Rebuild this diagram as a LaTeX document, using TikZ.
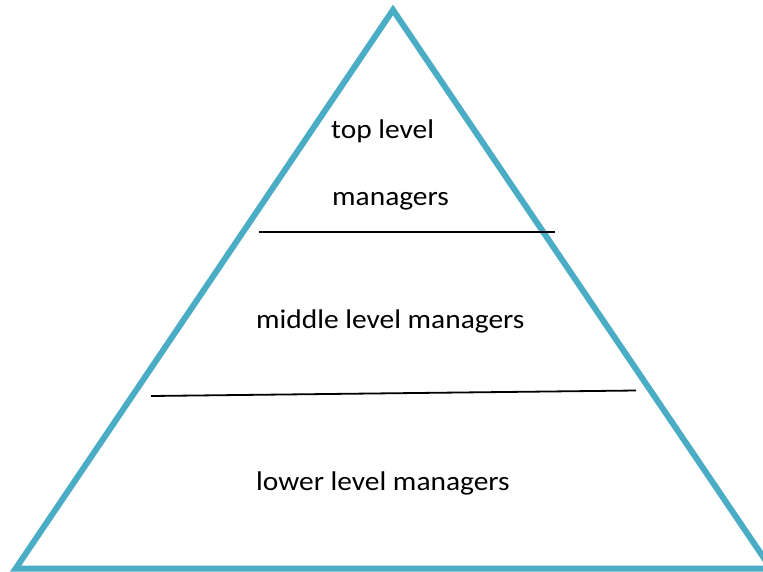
\documentclass[tikz,border=0pt]{standalone}
\usepackage{fontspec}
\setmainfont{Carlito}
\newfontfamily\pyrfont{Carlito}[FakeStretch=1.09]
\definecolor{pyrblue}{HTML}{4BACC6}

\begin{document}
\begin{tikzpicture}[x=1pt,y=-1pt,
        side/.style={draw=pyrblue,line width=6pt,line join=miter},
        divider/.style={draw=black,line width=1.8pt},
        every node/.style={font=\pyrfont\fontsize{27}{31}\selectfont,inner sep=0pt,anchor=base west}]
    \useasboundingbox (0,0) rectangle (763,571);

    % pyramid outline
    \coordinate (apex) at (393,10);
    \coordinate (left) at (15.7,568.5);
    \coordinate (right) at (771,568.5);
    \draw[side] (apex) -- (left) -- (right) -- cycle;

    % level dividers
    \coordinate (d1l) at (259,232);
    \coordinate (d1r) at (555,232);
    \coordinate (d2l) at (151,396);
    \coordinate (d2r) at (636,390.5);
    \draw[divider] (d1l) -- (d1r);
    \draw[divider] (d2l) -- (d2r);

    \node (topa) at (331,138) {top level};
    \node (topb) at (332,205) {managers};
    \node (mid) at (256,328) {middle level managers};
    \node (low) at (256,490) {lower level managers};
\end{tikzpicture}
\end{document}
